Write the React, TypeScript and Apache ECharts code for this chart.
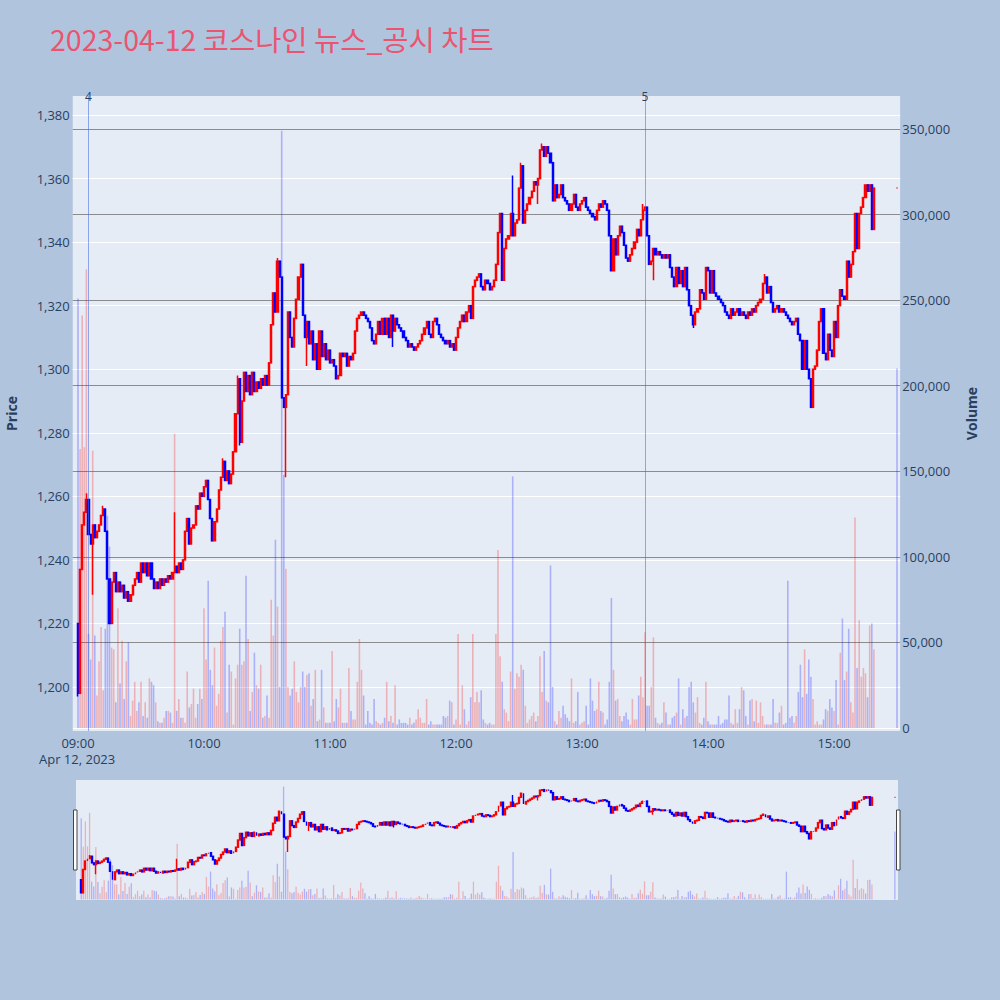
import React, { useEffect, useRef } from "react";
import * as echarts from "echarts";

// ---------------- data ----------------
const TITLE = "2023-04-12 코스나인 뉴스_공시 차트";
const DATE_LABEL = "Apr 12, 2023";
const FIRST_OPEN = 1220;

// minute closes from 09:00 (index 0) to 15:19 (index 379); open = previous close
const closes = [
  1198, 1237, 1251, 1255, 1259, 1248, 1245, 1251, 1247, 1249,
  1251, 1254, 1256, 1249, 1234, 1220, 1233, 1236, 1230, 1233,
  1230, 1232, 1228, 1230, 1227, 1229, 1232, 1234, 1236, 1233,
  1239, 1236, 1239, 1235, 1239, 1234, 1231, 1233, 1231, 1234,
  1232, 1234, 1233, 1235, 1234, 1236, 1238, 1236, 1239, 1237,
  1240, 1249, 1253, 1245, 1250, 1251, 1257, 1256, 1261, 1260,
  1263, 1265, 1259, 1253, 1246, 1252, 1256, 1262, 1266, 1271,
  1265, 1268, 1264, 1267, 1274, 1286, 1297, 1277, 1290, 1299,
  1293, 1298, 1292, 1299, 1293, 1296, 1294, 1297, 1295, 1298,
  1295, 1302, 1314, 1324, 1318, 1334, 1329, 1291, 1288, 1292,
  1318, 1310, 1307, 1316, 1322, 1329, 1333, 1317, 1310, 1315,
  1308, 1312, 1303, 1308, 1300, 1312, 1304, 1308, 1303, 1306,
  1302, 1303, 1301, 1297, 1298, 1305, 1304, 1305, 1301, 1304,
  1303, 1305, 1312, 1316, 1317, 1318, 1317, 1316, 1315, 1313,
  1309, 1308, 1311, 1315, 1311, 1316, 1311, 1316, 1310, 1317,
  1312, 1316, 1314, 1313, 1312, 1310, 1309, 1307, 1308, 1307,
  1306, 1307, 1308, 1309, 1311, 1313, 1315, 1311, 1310, 1315,
  1316, 1314, 1311, 1310, 1309, 1308, 1309, 1307, 1308, 1306,
  1310, 1313, 1315, 1317, 1315, 1318, 1320, 1316, 1326, 1328,
  1329, 1330, 1326, 1325, 1328, 1327, 1325, 1326, 1328, 1333,
  1343, 1349, 1328, 1338, 1341, 1342, 1349, 1342, 1346, 1347,
  1357, 1364, 1346, 1350, 1352, 1354, 1356, 1359, 1358, 1360,
  1369, 1370, 1367, 1370, 1368, 1365, 1353, 1358, 1354, 1355,
  1358, 1354, 1353, 1352, 1350, 1352, 1355, 1351, 1350, 1352,
  1353, 1354, 1351, 1350, 1349, 1348, 1347, 1350, 1352, 1351,
  1353, 1352, 1350, 1342, 1331, 1341, 1336, 1342, 1345, 1343,
  1339, 1335, 1334, 1336, 1338, 1340, 1344, 1342, 1347, 1350,
  1351, 1342, 1333, 1334, 1338, 1336, 1337, 1336, 1335, 1336,
  1335, 1336, 1332, 1329, 1326, 1332, 1327, 1331, 1326, 1332,
  1325, 1320, 1317, 1314, 1318, 1319, 1325, 1324, 1322, 1332,
  1331, 1324, 1331, 1324, 1323, 1322, 1321, 1320, 1318, 1317,
  1316, 1319, 1317, 1318, 1319, 1317, 1318, 1317, 1316, 1318,
  1317, 1319, 1318, 1320, 1321, 1322, 1327, 1329, 1324, 1326,
  1321, 1318, 1319, 1320, 1318, 1319, 1318, 1317, 1316, 1315,
  1314, 1315, 1316, 1311, 1309, 1300, 1309, 1300, 1297, 1288,
  1300, 1301, 1306, 1315, 1319, 1305, 1303, 1311, 1306, 1304,
  1315, 1310, 1320, 1325, 1323, 1322, 1334, 1329, 1333, 1337,
  1349, 1338, 1349, 1351, 1354, 1358, 1356, 1358, 1344, 1357,
];

// [minute index, high, low] for visible wicks
const wicks: [number, number | null, number | null][] = [
  [0, 1220, 1197], [4, 1261, null], [7, null, 1229], [12, 1257, null],
  [46, 1255, null], [69, 1272, null], [76, 1298, null], [77, null, 1276],
  [95, 1335, null], [99, null, 1266], [109, null, 1301], [150, null, 1307],
  [207, 1361, null], [211, 1365, null], [219, null, 1352], [221, 1371, null],
  [269, 1352, null], [274, null, 1328], [293, null, 1313], [327, 1330, null],
];

// minute volumes in thousands of shares, 09:00 .. 15:19
const volumesK = [
  251, 163, 241, 164, 268, 55, 40, 162, 54, 19,
  39, 59, 22, 58, 124, 106, 47, 46, 15, 70,
  26, 51, 17, 39, 50, 7, 16, 27, 10, 15,
  27, 7, 15, 6, 29, 27, 25, 15, 4, 3,
  3, 6, 10, 10, 9, 3, 172, 10, 17, 6,
  6, 3, 33, 12, 14, 23, 6, 14, 23, 17,
  70, 40, 86, 34, 25, 47, 13, 20, 51, 59,
  68, 9, 37, 33, 2, 29, 37, 58, 37, 39,
  89, 52, 10, 21, 44, 25, 23, 37, 6, 7,
  19, 6, 75, 54, 110, 71, 24, 349, 148, 93,
  24, 19, 23, 39, 21, 15, 24, 33, 24, 31,
  32, 13, 17, 34, 4, 5, 34, 12, 3, 3,
  3, 45, 4, 17, 12, 23, 3, 3, 3, 35,
  10, 5, 5, 27, 52, 34, 19, 2, 10, 3,
  2, 17, 4, 3, 2, 3, 6, 27, 4, 7,
  3, 25, 2, 5, 3, 3, 3, 2, 6, 2,
  3, 5, 11, 6, 3, 3, 17, 2, 4, 2,
  2, 2, 2, 2, 7, 6, 7, 16, 15, 2,
  5, 55, 2, 25, 11, 2, 4, 18, 55, 15,
  21, 15, 22, 5, 3, 2, 3, 2, 2, 55,
  104, 42, 27, 11, 9, 4, 33, 147, 23, 32,
  30, 37, 34, 13, 3, 5, 7, 9, 4, 7,
  42, 21, 45, 16, 15, 95, 24, 4, 2, 10,
  6, 13, 8, 6, 4, 29, 3, 4, 21, 2,
  3, 4, 13, 2, 29, 16, 10, 11, 27, 10,
  9, 2, 5, 27, 76, 34, 16, 17, 7, 4,
  7, 9, 5, 2, 17, 5, 5, 19, 30, 18,
  56, 13, 13, 24, 53, 6, 3, 2, 3, 15,
  9, 2, 2, 6, 7, 9, 29, 2, 11, 6,
  7, 24, 27, 15, 9, 18, 3, 2, 6, 27,
  4, 2, 2, 2, 2, 7, 2, 3, 5, 5,
  19, 3, 2, 11, 3, 11, 24, 22, 7, 2,
  16, 17, 4, 16, 3, 15, 7, 2, 2, 2,
  2, 17, 3, 3, 9, 13, 2, 3, 86, 6,
  7, 3, 7, 21, 37, 18, 46, 20, 40, 30,
  17, 2, 4, 2, 2, 5, 11, 10, 17, 12,
  10, 28, 2, 44, 64, 28, 33, 58, 15, 9,
  123, 35, 63, 30, 35, 32, 18, 60, 61, 46,
];

// closing auction at 15:30
const AUCTION_MINUTE = 390;
const AUCTION_PRICE = 1357;
const AUCTION_VOLUME = 210000;

// event markers
const eventTimes = ["09:05", "13:30"];
const eventLabels = ["4", "5"];

// axis extents
const PRICE_RANGE = [1186.15, 1385.98];
const VOLUME_RANGE = [-1750, 369300];
const PRICE_STEP = 20;
const VOLUME_STEP = 50000;
const FIRST_MINUTE = -2;
const LAST_MINUTE = 391;

// ---------------- styles ----------------
const RED = "#ff0000";
const BLUE = "#0000ff";
const RED_VOL = "rgba(255,0,0,0.25)";
const BLUE_VOL = "rgba(0,0,255,0.25)";
const EVENT_COLOR = "rgba(65,105,225,0.55)";
const TEXT = "#2a3f5f";
const PLOT_BG = "#E5ECF6";
const PAGE_BG = "#B0C4DE";
const FONT = '"Open Sans", sans-serif';

function minuteLabel(m: number) {
  const t = 9 * 60 + m;
  const h = Math.floor(t / 60);
  const mm = t % 60;
  return `${String(h).padStart(2, "0")}:${String(mm).padStart(2, "0")}`;
}

function buildData() {
  const cats: string[] = [];
  for (let m = FIRST_MINUTE; m <= LAST_MINUTE; m++) cats.push(minuteLabel(m));
  const candles: any[] = cats.map(() => "-");
  const vols: any[] = cats.map(() => "-");
  const wickMap = new Map<number, [number | null, number | null]>();
  wicks.forEach(([m, h, l]) => wickMap.set(m, [h, l]));
  closes.forEach((c, m) => {
    const o = m === 0 ? FIRST_OPEN : closes[m - 1];
    let lo = Math.min(o, c);
    let hi = Math.max(o, c);
    const w = wickMap.get(m);
    if (w) {
      if (w[0] != null) hi = Math.max(hi, w[0]);
      if (w[1] != null) lo = Math.min(lo, w[1]);
    }
    const up = c > o;
    candles[m - FIRST_MINUTE] = [o, c, lo, hi];
    vols[m - FIRST_MINUTE] = {
      value: volumesK[m] * 1000,
      itemStyle: { color: up ? RED_VOL : BLUE_VOL },
    };
  });
  const ai = AUCTION_MINUTE - FIRST_MINUTE;
  candles[ai] = {
    value: [AUCTION_PRICE, AUCTION_PRICE, AUCTION_PRICE, AUCTION_PRICE],
    itemStyle: { color: RED, color0: RED, borderColor: RED, borderColor0: RED, borderColorDoji: RED },
  };
  vols[ai] = { value: AUCTION_VOLUME, itemStyle: { color: BLUE_VOL } };
  return { cats, candles, vols };
}

const fmtNum = (v: number) => Math.round(v).toLocaleString("en-US");

export default function App() {
  const ref = useRef<HTMLDivElement>(null);

  useEffect(() => {
    document.body.style.margin = "0";
    if (!ref.current) return;
    const chart = echarts.init(ref.current, null, { renderer: "svg" });
    const { cats, candles, vols } = buildData();

    const candleStyle = {
      color: RED,
      color0: BLUE,
      borderColor: RED,
      borderColor0: BLUE,
      borderColorDoji: BLUE,
      borderWidth: 1.5,
    };

    const option: any = {
      animation: false,
      backgroundColor: PAGE_BG,
      title: {
        text: TITLE,
        left: 50,
        top: 24,
        padding: 0,
        textStyle: {
          color: "#EB5470",
          fontSize: 28.5,
          fontWeight: "normal",
          fontFamily: '"Noto Sans CJK KR", "Open Sans", sans-serif',
        },
      },
      grid: [
        {
          left: 72.75, top: 96, width: 827.4, height: 635,
          show: true, backgroundColor: PLOT_BG, borderWidth: 0,
          containLabel: false, outerBoundsMode: "none",
        },
        {
          left: 76, top: 780, width: 822, height: 120,
          show: true, backgroundColor: PLOT_BG, borderWidth: 0,
          containLabel: false, outerBoundsMode: "none",
        },
      ],
      xAxis: [
        {
          type: "category",
          gridIndex: 0,
          data: cats,
          boundaryGap: true,
          axisLine: { show: false },
          axisTick: { show: false },
          splitLine: { show: false },
          axisLabel: {
            interval: (_i: number, v: string) => v.endsWith(":00"),
            color: TEXT,
            fontSize: 13,
            lineHeight: 14,
            fontFamily: FONT,
            margin: 5,
          },
        },
        { type: "category", gridIndex: 1, data: cats, boundaryGap: true, show: false },
      ],
      yAxis: [
        {
          type: "value",
          gridIndex: 0,
          position: "left",
          min: PRICE_RANGE[0],
          max: PRICE_RANGE[1],
          minInterval: PRICE_STEP,
          maxInterval: PRICE_STEP,
          splitNumber: 10,
          axisLine: { show: false },
          axisTick: { show: false },
          axisLabel: {
            formatter: fmtNum,
            color: TEXT,
            fontSize: 13,
            fontFamily: FONT,
            margin: 3,
            showMinLabel: false,
            showMaxLabel: false,
          },
          splitLine: { show: true, showMinLine: false, showMaxLine: false, lineStyle: { color: "#ffffff", width: 1 } },
          name: "Price",
          nameLocation: "middle",
          nameRotate: 90,
          nameGap: 54,
          nameTextStyle: { color: TEXT, fontSize: 14, fontWeight: "bold", fontFamily: FONT },
        },
        {
          type: "value",
          gridIndex: 0,
          position: "right",
          min: VOLUME_RANGE[0],
          max: VOLUME_RANGE[1],
          minInterval: VOLUME_STEP,
          maxInterval: VOLUME_STEP,
          splitNumber: 8,
          axisLine: { show: false },
          axisTick: { show: false },
          axisLabel: {
            formatter: fmtNum,
            color: TEXT,
            fontSize: 13,
            fontFamily: FONT,
            margin: 2,
            showMinLabel: false,
            showMaxLabel: false,
          },
          splitLine: { show: true, showMinLine: false, showMaxLine: false, lineStyle: { color: "#8c8c8c", width: 1 } },
          name: "Volume",
          nameLocation: "middle",
          nameRotate: 90,
          nameGap: 64,
          nameTextStyle: { color: TEXT, fontSize: 14, fontWeight: "bold", fontFamily: FONT },
        },
        { type: "value", gridIndex: 1, min: PRICE_RANGE[0], max: PRICE_RANGE[1], show: false, splitLine: { show: false } },
        { type: "value", gridIndex: 1, min: VOLUME_RANGE[0], max: VOLUME_RANGE[1], show: false, splitLine: { show: false } },
      ],
      series: [
        {
          name: "Volume",
          type: "bar",
          xAxisIndex: 0,
          yAxisIndex: 1,
          data: vols,
          barWidth: 1.6,
          markLine: {
            silent: true,
            symbol: ["none", "none"],
            data: [
              { yAxis: 0, lineStyle: { color: "#ffffff", width: 1, type: "solid" }, label: { show: false } },
              ...eventTimes.map((t, i) => ({
                xAxis: t,
                lineStyle: { color: EVENT_COLOR, width: 1, type: "solid" },
                label: {
                  show: true,
                  position: "end",
                  formatter: eventLabels[i],
                  color: TEXT,
                  fontSize: 12,
                  fontFamily: FONT,
                  distance: -6,
                },
              })),
            ],
          },
        },
        {
          name: "Price",
          type: "candlestick",
          xAxisIndex: 0,
          yAxisIndex: 0,
          data: candles,
          barWidth: 1.6,
          itemStyle: candleStyle,
        },
        {
          name: "VolumeMini",
          type: "bar",
          xAxisIndex: 1,
          yAxisIndex: 3,
          data: vols,
          barWidth: 1.3,
        },
        {
          name: "PriceMini",
          type: "candlestick",
          xAxisIndex: 1,
          yAxisIndex: 2,
          data: candles,
          barWidth: 1.4,
          itemStyle: { ...candleStyle, borderWidth: 1.4 },
        },
      ],
      graphic: [
        {
          type: "text",
          left: 39,
          top: 752,
          style: { text: DATE_LABEL, fill: TEXT, fontSize: 13, lineHeight: 14, fontFamily: FONT },
        },
        { type: "rect", shape: { x: 73.5, y: 810, width: 3.5, height: 60 }, style: { fill: "#ffffff", stroke: "#444444", lineWidth: 1 } },
        { type: "rect", shape: { x: 896.5, y: 810, width: 3.5, height: 60 }, style: { fill: "#ffffff", stroke: "#444444", lineWidth: 1 } },
      ],
    };

    chart.setOption(option);
    return () => chart.dispose();
  }, []);

  return <div ref={ref} style={{ width: 1000, height: 1000 }} />;
}
